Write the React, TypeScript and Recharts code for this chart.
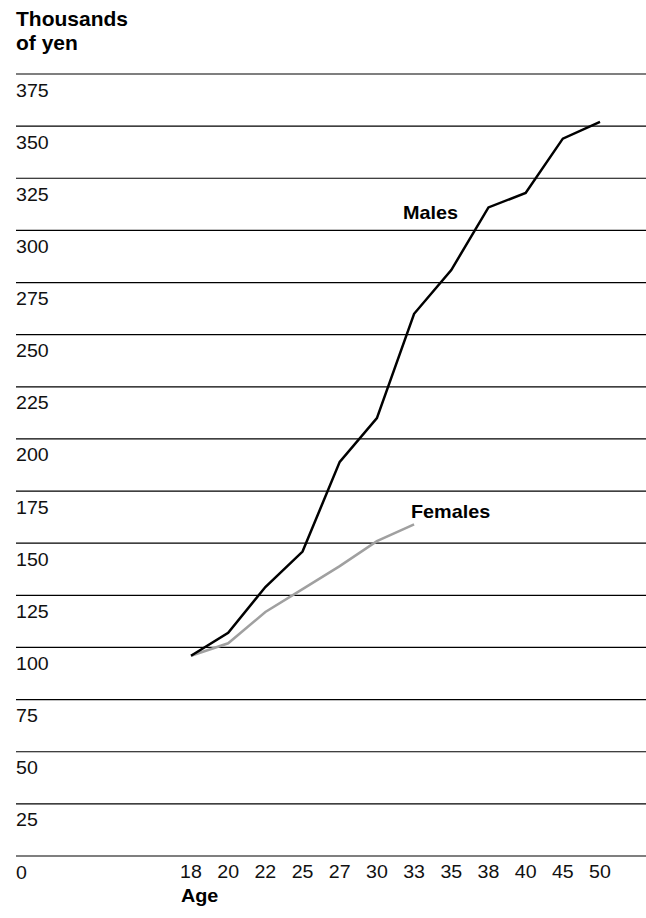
import { CartesianGrid, Line, LineChart, XAxis, YAxis } from 'recharts';

// Monthly wages by age, thousands of yen
const ages = ['18', '20', '22', '25', '27', '30', '33', '35', '38', '40', '45', '50'];
const males = [96, 107, 129, 146, 189, 210, 260, 281, 311, 318, 344, 352];
const females = [96, 102, 117, 128, 139, 151, 159, null, null, null, null, null];
const yTicks = [0, 25, 50, 75, 100, 125, 150, 175, 200, 225, 250, 275, 300, 325, 350, 375];

const rows = ages.map((age, i) => ({ age, males: males[i], females: females[i] }));

const FONT = '"Liberation Sans", Arial, Helvetica, sans-serif';

function YTick({ x, y, payload }: any) {
  return (
    <text
      transform={`translate(${x},${y + 22.5}) scale(1.12,1)`}
      fontFamily={FONT}
      fontSize={17.5}
      fill="#111"
      textAnchor="start"
    >
      {payload.value}
    </text>
  );
}

function XTick({ x, y, payload }: any) {
  return (
    <text
      transform={`translate(${x},${y + 22}) scale(1.12,1)`}
      fontFamily={FONT}
      fontSize={17.5}
      fill="#111"
      textAnchor="middle"
    >
      {payload.value}
    </text>
  );
}

export default function App() {
  return (
    <div style={{ position: 'absolute', left: 0, top: 0, width: 646, height: 918, background: '#fff' }}>
      <LineChart width={646} height={918} data={rows} margin={{ top: 74, right: 0, bottom: 32, left: 16 }}>
        <CartesianGrid vertical={false} stroke="#000" strokeWidth={1.2} />
        <XAxis
          dataKey="age"
          height={30}
          padding={{ left: 175, right: 46 }}
          axisLine={false}
          tickLine={false}
          tickSize={0}
          tickMargin={0}
          interval={0}
          tick={<XTick />}
        />
        <YAxis
          mirror
          width={60}
          domain={[0, 375]}
          ticks={yTicks}
          interval={0}
          axisLine={false}
          tickLine={false}
          tickSize={0}
          tickMargin={0}
          tick={<YTick />}
        />
        <Line dataKey="females" stroke="#a0a0a0" strokeWidth={2.5} dot={false} isAnimationActive={false} />
        <Line dataKey="males" stroke="#000" strokeWidth={2.5} dot={false} isAnimationActive={false} />
      </LineChart>
      <svg width={646} height={918} style={{ position: 'absolute', left: 0, top: 0, pointerEvents: 'none' }}>
        <g fontFamily={FONT} fontWeight="bold" fill="#000">
          <text transform="translate(16,26) scale(1.05,1)" fontSize={20}>Thousands</text>
          <text transform="translate(16,49.5) scale(1.05,1)" fontSize={20}>of yen</text>
          <text transform="translate(403,219) scale(1.1,1)" fontSize={18}>Males</text>
          <text transform="translate(411,518) scale(1.1,1)" fontSize={18}>Females</text>
          <text transform="translate(181,902) scale(1.1,1)" fontSize={18}>Age</text>
        </g>
      </svg>
    </div>
  );
}
